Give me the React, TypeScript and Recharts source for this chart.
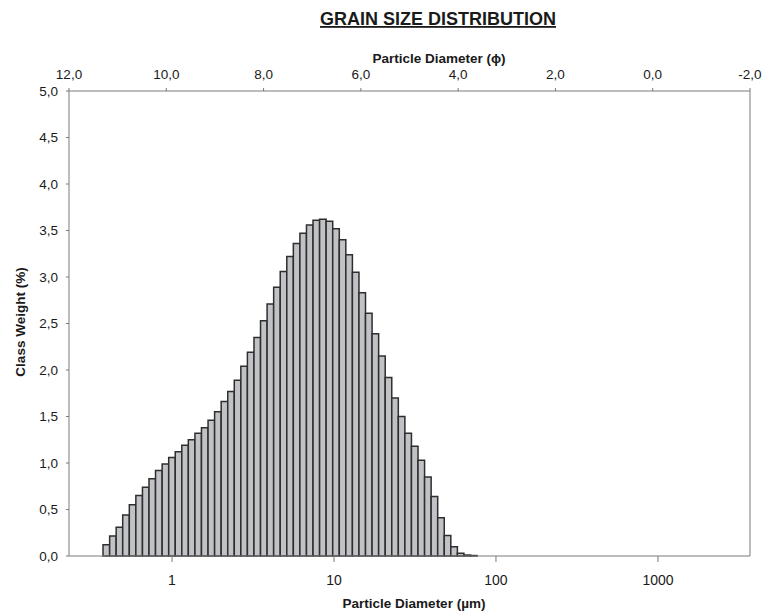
import { ComposedChart, XAxis, YAxis, ReferenceArea } from 'recharts'

// channel lower edges (µm), last value closes the final channel
const edges = [
  0.375, 0.412, 0.452, 0.496, 0.545, 0.598, 0.657, 0.721, 0.791, 0.869,
  0.954, 1.047, 1.149, 1.261, 1.385, 1.52, 1.669, 1.832, 2.011, 2.208,
  2.423, 2.66, 2.92, 3.206, 3.519, 3.863, 4.241, 4.656, 5.111, 5.611,
  6.159, 6.761, 7.422, 8.148, 8.944, 9.819, 10.78, 11.83, 12.99, 14.26,
  15.65, 17.18, 18.86, 20.71, 22.73, 24.95, 27.39, 30.07, 33.01, 36.24,
  39.78, 43.67, 47.94, 52.62, 57.77, 63.41, 69.61, 76.42,
]

// class weight (%) per channel
const weights = [
  0.12, 0.215, 0.31, 0.44, 0.55, 0.65, 0.74, 0.83, 0.92, 0.99,
  1.06, 1.12, 1.19, 1.25, 1.32, 1.38, 1.46, 1.55, 1.66, 1.77,
  1.89, 2.04, 2.19, 2.35, 2.53, 2.71, 2.89, 3.06, 3.22, 3.36,
  3.47, 3.56, 3.61, 3.62, 3.6, 3.52, 3.4, 3.24, 3.05, 2.83,
  2.61, 2.39, 2.15, 1.92, 1.7, 1.5, 1.32, 1.18, 1.03, 0.85,
  0.64, 0.41, 0.22, 0.1, 0.03, 0.01, 0.005,
]

const umTicks = [1, 10, 100, 1000]
const phiTicks = [12, 10, 8, 6, 4, 2, 0, -2]
const weightTicks = [0, 0.5, 1, 1.5, 2, 2.5, 3, 3.5, 4, 4.5, 5]

const rows = weights.map((w, i) => ({
  d: edges[i],
  d2: edges[i + 1],
  w,
  phi: -Math.log2(edges[i] / 1000),
}))

const font = '"Liberation Sans", Arial, sans-serif'
const axisCol = '#7a7a7a'
const textCol = '#1a1a1a'
const comma = (v: number) => v.toFixed(1).replace('.', ',')
const tickStyle = { fill: textCol, fontSize: 13.5, fontFamily: font }

export default function App() {
  return (
    <div style={{ position: 'absolute', left: 0, top: 0, width: 763, height: 614, background: '#fff' }}>
      <ComposedChart
        width={763}
        height={614}
        data={rows}
        margin={{ top: 61, right: 12, left: 20, bottom: 28 }}
      >
        <XAxis
          xAxisId="bottom"
          dataKey="d"
          type="number"
          scale="log"
          domain={[0.2312, 3700]}
          allowDataOverflow
          ticks={umTicks}
          interval={0}
          height={30}
          tickSize={6}
          tickMargin={13}
          tick={{ ...tickStyle, fontSize: 14 }}
          stroke={axisCol}
        />
        <XAxis
          xAxisId="top"
          orientation="top"
          dataKey="phi"
          type="number"
          domain={[-2, 12]}
          reversed
          allowDataOverflow
          ticks={phiTicks}
          interval={0}
          height={30}
          tickSize={3}
          tickMargin={9}
          tickFormatter={comma}
          tick={tickStyle}
          stroke={axisCol}
        />
        <YAxis
          yAxisId="left"
          dataKey="w"
          type="number"
          domain={[0, 5]}
          allowDataOverflow
          ticks={weightTicks}
          interval={0}
          width={49}
          tickSize={3}
          tickMargin={8}
          tickFormatter={comma}
          tick={tickStyle}
          stroke={axisCol}
        />
        <YAxis
          yAxisId="right"
          dataKey="w"
          orientation="right"
          type="number"
          domain={[0, 5]}
          allowDataOverflow
          width={1}
          tick={false}
          tickLine={false}
          stroke={axisCol}
        />
        {rows.map((r) => (
          <ReferenceArea
            key={r.d}
            xAxisId="bottom"
            yAxisId="left"
            x1={r.d}
            x2={r.d2}
            y1={0}
            y2={r.w}
            fill="#c1c2c6"
            fillOpacity={1}
            stroke="#2e2e2e"
            strokeWidth={1.5}
            ifOverflow="visible"
          />
        ))}
      </ComposedChart>
      <svg
        width={763}
        height={614}
        style={{ position: 'absolute', left: 0, top: 0, pointerEvents: 'none' }}
        fontFamily={font}
        fill={textCol}
        fontWeight="bold"
      >
        <text x={438} y={25} fontSize={18} textAnchor="middle" style={{ textDecoration: 'underline' }}>
          GRAIN SIZE DISTRIBUTION
        </text>
        <text x={439} y={63} fontSize={13.5} textAnchor="middle">
          Particle Diameter (ϕ)
        </text>
        <text x={414} y={608} fontSize={13.5} textAnchor="middle">
          Particle Diameter (µm)
        </text>
        <text x={25} y={322} fontSize={13.5} textAnchor="middle" transform="rotate(-90 25 322)">
          Class Weight (%)
        </text>
      </svg>
    </div>
  )
}
